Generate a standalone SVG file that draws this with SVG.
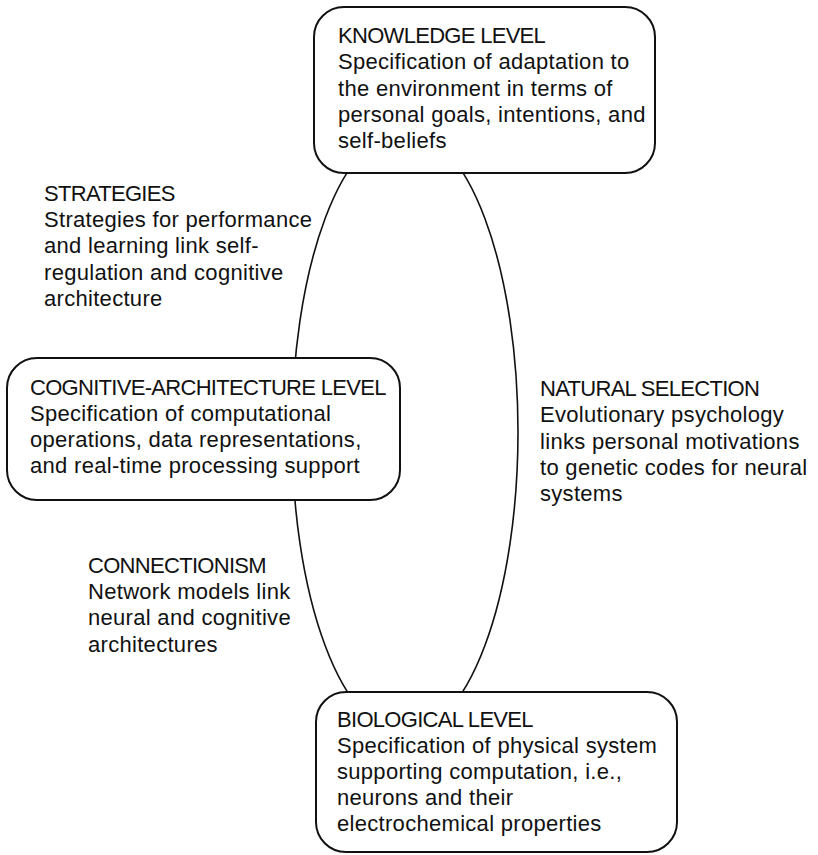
<svg xmlns="http://www.w3.org/2000/svg" width="818" height="855" viewBox="0 0 818 855">
  <style>
    text { font-family: "Liberation Sans", Arial, sans-serif; font-size: 22px; fill: #111; letter-spacing: 0.3px; }
    .head { letter-spacing: -0.7px; }
    .box { fill: #fff; stroke: #111; stroke-width: 2; }
    .link { fill: none; stroke: #111; stroke-width: 1.6; }
  </style>
  <rect width="818" height="855" fill="#fff"/>

  <!-- connectors: a single loop through all three levels -->
  <g id="connectors">
    <ellipse class="link" cx="405" cy="432" rx="113" ry="302"/>
  </g>

  <g id="knowledge-level">
    <rect class="box" x="314" y="7" width="341" height="166" rx="30" ry="30"/>
    <text x="338" y="43" class="head">KNOWLEDGE LEVEL</text>
    <text x="338" y="69">Specification of adaptation to</text>
    <text x="338" y="96">the environment in terms of</text>
    <text x="338" y="122">personal goals, intentions, and</text>
    <text x="338" y="148">self-beliefs</text>
  </g>

  <g id="cognitive-architecture-level">
    <rect class="box" x="7" y="358" width="393" height="142" rx="30" ry="30"/>
    <text x="30" y="395" class="head">COGNITIVE-ARCHITECTURE LEVEL</text>
    <text x="30" y="421">Specification of computational</text>
    <text x="30" y="447">operations, data representations,</text>
    <text x="30" y="473">and real-time processing support</text>
  </g>

  <g id="biological-level">
    <rect class="box" x="316" y="692" width="361" height="160" rx="30" ry="30"/>
    <text x="337" y="727" class="head">BIOLOGICAL LEVEL</text>
    <text x="337" y="753">Specification of physical system</text>
    <text x="337" y="779">supporting computation, i.e.,</text>
    <text x="337" y="805">neurons and their</text>
    <text x="337" y="831">electrochemical properties</text>
  </g>

  <g id="strategies">
    <text x="44" y="201" class="head">STRATEGIES</text>
    <text x="44" y="227">Strategies for performance</text>
    <text x="44" y="253">and learning link self-</text>
    <text x="44" y="280">regulation and cognitive</text>
    <text x="44" y="306">architecture</text>
  </g>

  <g id="natural-selection">
    <text x="540" y="396" class="head">NATURAL SELECTION</text>
    <text x="540" y="422">Evolutionary psychology</text>
    <text x="540" y="449">links personal motivations</text>
    <text x="540" y="475">to genetic codes for neural</text>
    <text x="540" y="501">systems</text>
  </g>

  <g id="connectionism">
    <text x="88" y="573" class="head">CONNECTIONISM</text>
    <text x="88" y="599">Network models link</text>
    <text x="88" y="625">neural and cognitive</text>
    <text x="88" y="652">architectures</text>
  </g>
</svg>
